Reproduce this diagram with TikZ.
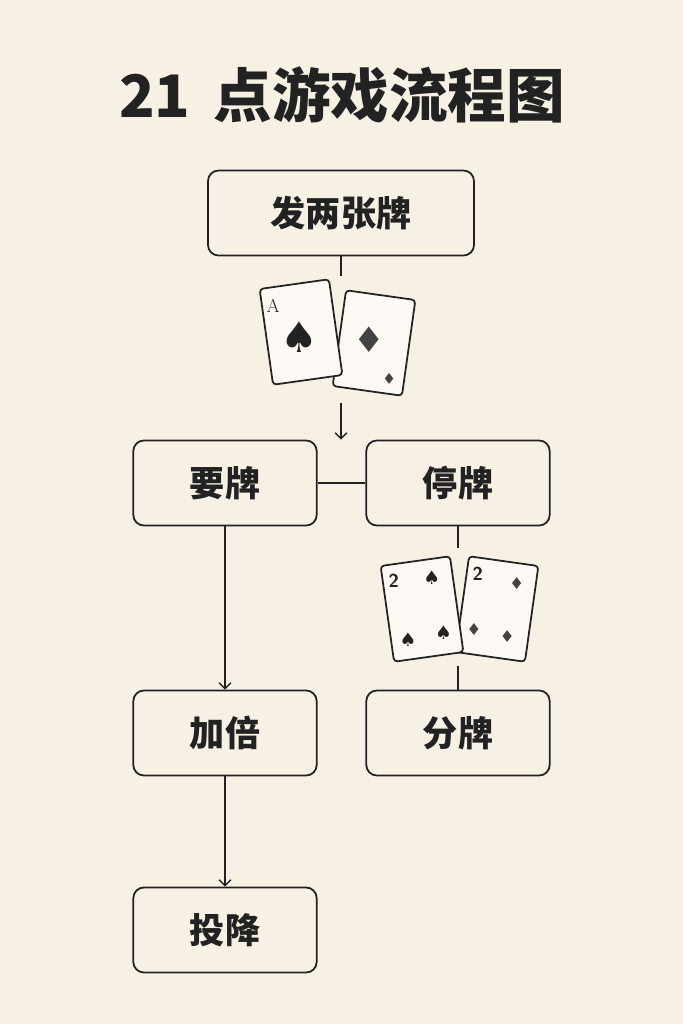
\documentclass[tikz,border=0pt]{standalone}
\usepackage{fontspec}
\newfontfamily\cjk{Noto Sans CJK SC}
\newfontfamily\symb{DejaVu Sans}
\usetikzlibrary{positioning,arrows.meta}
\definecolor{bg}{HTML}{F7F1E5}
\definecolor{ink}{HTML}{222222}
\tikzset{
  stepbox/.style={draw=ink, line width=1.5pt, rounded corners=9pt, fill=bg,
    minimum width=5.5cm, minimum height=2.55cm, font=\cjk\bfseries\fontsize{30}{30}\selectfont, text=ink},
  card/.style={draw=ink, line width=1.5pt, rounded corners=3pt, fill=white!60!bg,
    minimum width=2.1cm, minimum height=2.9cm, transform shape},
  flow/.style={ink, line width=1.2pt},
  arr/.style={flow, -{Straight Barb[length=5pt,width=10pt]}},
}
\begin{document}
\begin{tikzpicture}[x=0.03cm, y=-0.03cm]
  \fill[bg] (0,0) rectangle (683,1024);
  \node[text=ink, font=\cjk\bfseries\fontsize{50}{50}\selectfont] (title) at (342,95) {21\, 点游戏流程图};

  \node[stepbox, minimum width=7.98cm] (deal) at (341,213) {发两张牌};
  \node[stepbox] (hit)   at (225,483) {要牌};
  \node[stepbox] (stand) at (458,483) {停牌};
  \node[stepbox] (dbl)   at (225,733) {加倍};
  \node[stepbox] (split) at (458,733) {分牌};
  \node[stepbox] (quit)  at (225,930) {投降};

  % first pair of cards
  \begin{scope}[shift={(374,343)}, rotate=-8]
    \node[card] (c2) at (0,0) {};
    \node[font=\symb\fontsize{30}{30}\selectfont, text=ink!85] at (-5,-3) {♦};
    \node[font=\symb\fontsize{13}{13}\selectfont, text=ink!85] at (20,33) {♦};
  \end{scope}
  \begin{scope}[shift={(301,332)}, rotate=8]
    \node[card] (c1) at (0,0) {};
    \node[font=\fontsize{16}{16}\selectfont, text=ink] at (-24,-30) {A};
    \node[font=\symb\fontsize{36}{36}\selectfont, text=ink] at (-2,5) {♠};
  \end{scope}
  % second pair of cards
  \begin{scope}[shift={(497,609)}, rotate=-8]
    \node[card] (c4) at (0,0) {};
    \node[font=\sffamily\bfseries\fontsize{16}{16}\selectfont, text=ink] at (-24,-32) {2};
    \node[font=\symb\fontsize{14}{14}\selectfont, text=ink!85] at (16,-28) {♦};
    \node[font=\symb\fontsize{14}{14}\selectfont, text=ink!85] at (-20,24) {♦};
    \node[font=\symb\fontsize{14}{14}\selectfont, text=ink!85] at (14,26) {♦};
  \end{scope}
  \begin{scope}[shift={(422,609)}, rotate=8]
    \node[card] (c3) at (0,0) {};
    \node[font=\sffamily\bfseries\fontsize{16}{16}\selectfont, text=ink] at (-24,-32) {2};
    \node[font=\symb\fontsize{16}{16}\selectfont, text=ink] at (14,-30) {♠};
    \node[font=\symb\fontsize{16}{16}\selectfont, text=ink] at (-18,28) {♠};
    \node[font=\symb\fontsize{16}{16}\selectfont, text=ink] at (18,26) {♠};
  \end{scope}

  \coordinate (t1) at (341,276);
  \coordinate (t2) at (341,403);
  \coordinate (t3) at (458,548);
  \coordinate (t4) at (458,666);
  \draw[flow] (deal) -- (t1);
  \draw[arr] (t2) -- (hit.north -| t2);
  \draw[flow] (hit) -- (stand);
  \draw[arr] (hit) -- (dbl);
  \draw[arr] (dbl) -- (quit);
  \draw[flow] (stand) -- (t3);
  \draw[flow] (t4) -- (split);
\end{tikzpicture}
\end{document}
